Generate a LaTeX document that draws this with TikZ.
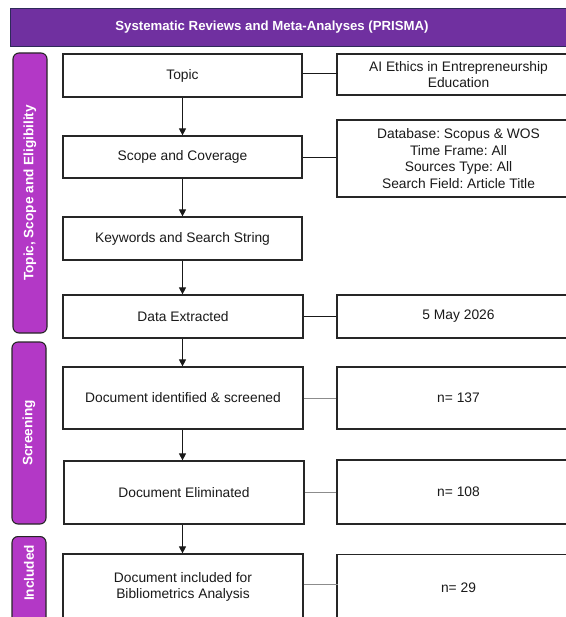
\documentclass[tikz,border=0pt]{standalone}
\usepackage{fontspec}
\setmainfont{Liberation Sans}
\usetikzlibrary{arrows.meta}
\definecolor{hdr}{HTML}{7030A0}
\definecolor{hdrline}{HTML}{2E2A5A}
\definecolor{side}{HTML}{B338C6}
\definecolor{txt}{HTML}{1A1A1A}
\frenchspacing
\begin{document}
\begin{tikzpicture}[x=1pt,y=-1pt,
  box/.style={draw=black!85,line width=1.2pt,fill=white,inner sep=2pt,align=center,
    font=\fontsize{13.8}{16.5}\selectfont\frenchspacing,text=txt},
  sidebar/.style={draw=black!85,line width=1.1pt,fill=side,rounded corners=6pt},
  sidetext/.style={rotate=90,text=white,font=\fontsize{13.6}{16}\selectfont\bfseries},
  arr/.style={draw=black!90,line width=0.9pt,-{Triangle[length=7pt,width=7pt]}},
  link/.style={draw=black!90,line width=0.9pt},
  glink/.style={draw=black!45,line width=0.9pt}]
\useasboundingbox (0,0) rectangle (565,617);
% header
\node[draw=hdrline,line width=1pt,fill=hdr,minimum width=570pt,minimum height=38pt,inner sep=0pt,anchor=north west] (hdr) at (10,8) {};
\node[text=white,font=\fontsize{13.2}{15}\selectfont\bfseries] (hdrtext) at (272,27.5) {Systematic Reviews and Meta-Analyses (PRISMA)};
% side bars
\node[sidebar,minimum width=34pt,minimum height=280pt,inner sep=0pt] (sb1) at (30,193) {};
\node[sidetext] (sb1t) at (30,193) {Topic, Scope and Eligibility};
\node[sidebar,minimum width=34pt,minimum height=182pt,inner sep=0pt] (sb2) at (29,433) {};
\node[sidetext] (sb2t) at (29,433) {Screening};
\node[sidebar,minimum width=34pt,minimum height=100pt,inner sep=0pt,anchor=north] (sb3) at (29,536) {};
\node[sidetext] (sb3t) at (29,573) {Included};
% left column
\node[box,minimum width=239pt,minimum height=43pt] (topic) at (182.5,75.5) {Topic};
\node[box,minimum width=239pt,minimum height=42pt] (scope) at (182.5,157) {Scope and Coverage};
\node[box,minimum width=239pt,minimum height=43pt] (kw) at (182.5,238.5) {Keywords and Search String};
\node[box,minimum width=240pt,minimum height=43pt] (data) at (183,316.5) {Data Extracted};
\node[box,minimum width=240pt,minimum height=62pt] (ident) at (183,398) {Document identified \& screened};
\node[box,minimum width=240pt,minimum height=63pt] (elim) at (184,492.5) {Document Eliminated};
\node[box,minimum width=240pt,minimum height=66pt] (incl) at (183,587) {Document included for\\Bibliometrics Analysis};
% right column
\node[box,minimum width=243pt,minimum height=41pt] (ai) at (458.5,74.5) {AI Ethics in Entrepreneurship\\Education};
\node[box,minimum width=243pt,minimum height=77pt] (db) at (458.5,158.5) {Database: Scopus \& WOS\\Time Frame: All\\Sources Type: All\\Search Field: Article Title};
\node[box,minimum width=243pt,minimum height=43pt] (date) at (458.5,316.5) {5 May 2026};
\node[box,minimum width=243pt,minimum height=62pt] (n1) at (458.5,398) {n= 137};
\node[box,minimum width=243pt,minimum height=64pt] (n2) at (458.5,492) {n= 108};
\node[box,minimum width=243pt,minimum height=66pt] (n3) at (458.5,587.5) {n= 29};
% arrows
\draw[arr] (topic.south) -- (topic.south |- scope.north);
\draw[arr] (scope.south) -- (scope.south |- kw.north);
\draw[arr] (kw.south) -- (kw.south |- data.north);
\draw[arr] (data.south -| kw.south) -- (kw.south |- ident.north);
\draw[arr] (ident.south -| kw.south) -- (kw.south |- elim.north);
\draw[arr] (elim.south -| kw.south) -- (kw.south |- incl.north);
% links
\draw[link] (topic.east) ++(0,-2) -- +(35,0) coordinate (l1end);
\draw[link] (scope.east) -- (scope.east -| db.west);
\draw[link] (data.east) -- (data.east -| date.west);
\draw[glink] (ident.east) -- (ident.east -| n1.west);
\draw[glink] (elim.east) -- (elim.east -| n2.west);
\draw[glink] (incl.east) ++(0,-3) -- +(34,0) coordinate (l3end);
\end{tikzpicture}
\end{document}
